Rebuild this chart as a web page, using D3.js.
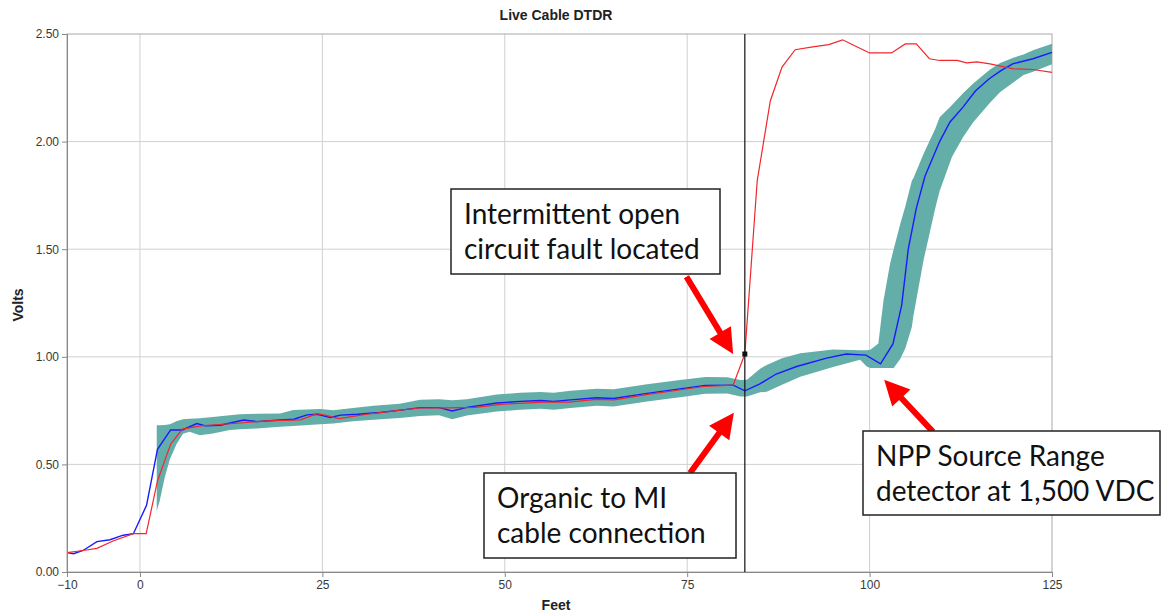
<!DOCTYPE html>
<html>
<head>
<meta charset="utf-8">
<script src="https://cdn.jsdelivr.net/npm/d3@7"></script>
<style>
  body { margin: 0; background: #fff; }
  svg { display: block; }
</style>
</head>
<body>
<div id="chart"></div>
<script>
// trace readings, [feet, volts]
const redTrace = [
  [-10, 0.09], [-7.8, 0.10], [-5.9, 0.11], [-3.7, 0.144], [-0.9, 0.178], [0.85, 0.178],
  [2.4, 0.423], [4.2, 0.594], [5.8, 0.664], [8.3, 0.679], [12.8, 0.69], [17.4, 0.702],
  [22, 0.707], [24.3, 0.736], [25.5, 0.728], [27.3, 0.713], [29, 0.722], [31.1, 0.733],
  [35.7, 0.752], [38.4, 0.762], [42, 0.763], [46, 0.765], [49.8, 0.78], [55.5, 0.789],
  [58.8, 0.789], [62.5, 0.802], [65, 0.80], [69.6, 0.825], [74.4, 0.848], [77.2, 0.862],
  [81.3, 0.868], [82.9, 1.013], [84.6, 1.819], [86.4, 2.19], [88, 2.346], [89.8, 2.427],
  [92.2, 2.44], [94.4, 2.451], [96.3, 2.473], [98.1, 2.443], [100, 2.412], [101.4, 2.412],
  [103, 2.412], [104.9, 2.454], [106.4, 2.454], [108.2, 2.385], [109.6, 2.377], [112, 2.377],
  [113.3, 2.366], [114.7, 2.37], [116.5, 2.361], [119.7, 2.338], [122.4, 2.335], [125, 2.322]
];

const blueTrace = [
  [-10, 0.09], [-9.1, 0.085], [-7.8, 0.10], [-5.9, 0.141], [-4.1, 0.15], [-2.3, 0.171],
  [-0.9, 0.178], [0.9, 0.31], [2.4, 0.57], [4.2, 0.66], [5.8, 0.66], [7.8, 0.69],
  [9.0, 0.679], [11, 0.682], [14.2, 0.706], [16, 0.699], [19.2, 0.706], [21.1, 0.71],
  [22.9, 0.73], [24.3, 0.733], [26.1, 0.718], [27.5, 0.729], [29.8, 0.733], [32.9, 0.741],
  [35.7, 0.752], [38.4, 0.764], [41, 0.764], [42.8, 0.748], [44.8, 0.765], [48.9, 0.785],
  [52.1, 0.793], [54.9, 0.797], [56.7, 0.792], [59, 0.80], [62.6, 0.81], [64.9, 0.806],
  [69.5, 0.83], [74, 0.851], [77.5, 0.867], [81.3, 0.868], [82.9, 0.842], [84.9, 0.873],
  [87.2, 0.92], [90, 0.955], [94.1, 0.994], [96.8, 1.013], [99.5, 1.008], [101.5, 0.967],
  [103.2, 1.06], [104.4, 1.24], [105.3, 1.5], [106.4, 1.69], [107.6, 1.84], [109.6, 2.0],
  [111, 2.09], [112.8, 2.16], [114.5, 2.235], [116.4, 2.292], [118, 2.33], [119.6, 2.361],
  [122.4, 2.385], [125, 2.415]
];

// teal envelope round the blue trace
const bandFeet = [
  2.3, 2.7, 3.4, 4.1, 5.0, 5.9, 6.8, 8.2, 10, 12.3, 13.7, 16, 19.2, 21, 24.7, 26.5, 29.2,
  32, 35.6, 38.4, 41, 42.8, 44.8, 48.9, 52.1, 54.9, 56.7, 59, 62.6, 64.9, 69.5, 74, 77.5,
  80.5, 82.3, 83.2, 85, 85.9, 88, 90.5, 95, 98.7, 99.6, 100.1, 101.2, 101.9, 102.8, 103.3,
  104.2, 104.9, 105.8, 106, 107.4, 109, 109.6, 111.3, 112.8, 114.2, 116.5, 117.9, 119.7,
  121.1, 122.4, 125
];
const bandHigh = [
  0.682, 0.682, 0.683, 0.687, 0.70, 0.71, 0.712, 0.715, 0.72, 0.728, 0.733, 0.735, 0.736,
  0.753, 0.757, 0.752, 0.762, 0.773, 0.782, 0.80, 0.803, 0.798, 0.803, 0.825, 0.833, 0.837,
  0.833, 0.842, 0.852, 0.849, 0.872, 0.892, 0.906, 0.905, 0.892, 0.893, 0.945, 0.962, 0.993,
  1.016, 1.034, 1.031, 1.031, 1.033, 1.062, 1.26, 1.431, 1.50, 1.617, 1.70, 1.819, 1.83,
  1.943, 2.06, 2.113, 2.17, 2.225, 2.27, 2.335, 2.365, 2.39, 2.405, 2.425, 2.455
];
const bandLow = [
  0.284, 0.33, 0.44, 0.524, 0.594, 0.642, 0.652, 0.636, 0.644, 0.66, 0.663, 0.667, 0.675,
  0.679, 0.687, 0.69, 0.70, 0.707, 0.716, 0.725, 0.728, 0.71, 0.727, 0.746, 0.754, 0.759,
  0.754, 0.762, 0.772, 0.769, 0.792, 0.812, 0.828, 0.83, 0.816, 0.816, 0.835, 0.838, 0.87,
  0.907, 0.953, 0.986, 0.955, 0.948, 0.948, 0.948, 0.948, 0.948, 0.99, 1.04, 1.14, 1.19,
  1.45, 1.69, 1.77, 1.93, 2.02, 2.09, 2.18, 2.23, 2.275, 2.31, 2.325, 2.36
];

const xTicks = [-10, 0, 25, 50, 75, 100, 125];
const yTicks = [0, 0.5, 1.0, 1.5, 2.0, 2.5];
const cursor = [82.9, 1.013];

// callouts: text lines, box in px, arrow tail -> tip in [feet, volts]
const notes = [
  { lines: ["Intermittent open", "circuit fault located"], box: [451, 189, 269, 85],
    tail: [74.9, 1.372], tip: [81.3, 1.013] },
  { lines: ["Organic to MI", "cable connection"], box: [484, 473, 252, 85],
    tail: [75.4, 0.46], tip: [81.4, 0.74] },
  { lines: ["NPP Source Range", "detector at 1,500 VDC"], box: [863, 431, 297, 84],
    tail: [108.7, 0.651], tip: [102, 0.893] }
];

var width = 1162,
    height = 615,
    margin = { left: 66, right: 110, top: 34, bottom: 43 };

var svg = d3.select("#chart").append("svg")
  .attr("width", width)
  .attr("height", height);

var x = d3.scaleLinear()
  .domain([-10, 125])
  .range([margin.left + 1, width - margin.right]);

var y = d3.scaleLinear()
  .domain([0, 2.5])
  .range([height - margin.bottom, margin.top]);

// grid
svg.append("g")
  .selectAll("line")
  .data(xTicks.slice(1, -1))
  .join("line")
    .attr("x1", d => x(d)).attr("x2", d => x(d))
    .attr("y1", y(2.5)).attr("y2", y(0))
    .attr("stroke", "#d0d0d0");

svg.append("g")
  .selectAll("line")
  .data(yTicks.slice(1, -1))
  .join("line")
    .attr("x1", x(-10)).attr("x2", x(125))
    .attr("y1", d => y(d)).attr("y2", d => y(d))
    .attr("stroke", "#d0d0d0");

svg.append("rect")
  .attr("x", x(-10)).attr("y", y(2.5))
  .attr("width", x(125) - x(-10)).attr("height", y(0) - y(2.5))
  .attr("fill", "none")
  .attr("stroke", "#a8a8a8");

// band
var area = d3.area()
  .x((d, i) => x(bandFeet[i]))
  .y0((d, i) => y(bandLow[i]))
  .y1((d, i) => y(bandHigh[i]));

svg.append("path")
  .datum(bandFeet)
  .attr("fill", "#64aeaa")
  .attr("d", area);

var line = d3.line()
  .x(d => x(d[0]))
  .y(d => y(d[1]));

svg.append("path")
  .datum(blueTrace)
  .attr("fill", "none")
  .attr("stroke", "#1a1aff")
  .attr("stroke-width", 1.4)
  .attr("d", line);

svg.append("path")
  .datum(redTrace)
  .attr("fill", "none")
  .attr("stroke", "#f2262c")
  .attr("stroke-width", 1.2)
  .attr("d", line);

// cursor
svg.append("line")
  .attr("x1", x(cursor[0])).attr("x2", x(cursor[0]))
  .attr("y1", y(2.5)).attr("y2", y(0))
  .attr("stroke", "#111")
  .attr("stroke-width", 1.2);

svg.append("rect")
  .attr("x", x(cursor[0]) - 2.5).attr("y", y(cursor[1]) - 2.5)
  .attr("width", 5).attr("height", 5)
  .attr("fill", "#111");

// axes
var xAxis = svg.append("g")
  .attr("transform", `translate(0,${y(0)})`)
  .call(d3.axisBottom(x).tickValues(xTicks).tickSize(5).tickPadding(3));

var yAxis = svg.append("g")
  .attr("transform", `translate(${x(-10)},0)`)
  .call(d3.axisLeft(y).tickValues(yTicks).tickFormat(d3.format(".2f")).tickSize(5).tickPadding(3));

[xAxis, yAxis].forEach(g => {
  g.select(".domain").attr("stroke", "#888");
  g.selectAll(".tick line").attr("stroke", "#888");
  g.selectAll(".tick text")
    .attr("fill", "#383838")
    .style("font-family", "Liberation Sans, Arial, sans-serif")
    .style("font-size", "12px");
});

svg.append("text")
  .attr("x", 556).attr("y", 20)
  .attr("text-anchor", "middle")
  .style("font", "bold 14px Liberation Sans, Arial, sans-serif")
  .attr("fill", "#222")
  .text("Live Cable DTDR");

svg.append("text")
  .attr("x", 556).attr("y", 610)
  .attr("text-anchor", "middle")
  .style("font", "bold 14px Liberation Sans, Arial, sans-serif")
  .attr("fill", "#222")
  .text("Feet");

svg.append("text")
  .attr("transform", "translate(23,305) rotate(-90)")
  .attr("text-anchor", "middle")
  .style("font", "bold 14px Liberation Sans, Arial, sans-serif")
  .attr("fill", "#222")
  .text("Volts");

// arrows
function arrowPath(t, p) {
  var x0 = x(t[0]), y0 = y(t[1]), x1 = x(p[0]), y1 = y(p[1]);
  var dx = x1 - x0, dy = y1 - y0, len = Math.hypot(dx, dy);
  var ux = dx / len, uy = dy / len, nx = -uy, ny = ux;
  var head = 25, hw = 12.5, sw = 3;
  var bx = x1 - ux * head, by = y1 - uy * head;
  var pts = [
    [x0 + nx * sw, y0 + ny * sw],
    [bx + nx * sw, by + ny * sw],
    [bx + nx * hw, by + ny * hw],
    [x1, y1],
    [bx - nx * hw, by - ny * hw],
    [bx - nx * sw, by - ny * sw],
    [x0 - nx * sw, y0 - ny * sw]
  ];
  return "M" + pts.map(q => q.join(",")).join("L") + "Z";
}

var note = svg.append("g")
  .selectAll("g")
  .data(notes)
  .join("g");

note.append("path")
  .attr("d", d => arrowPath(d.tail, d.tip))
  .attr("fill", "#ff0000");

note.append("rect")
  .attr("x", d => d.box[0]).attr("y", d => d.box[1])
  .attr("width", d => d.box[2]).attr("height", d => d.box[3])
  .attr("fill", "#fff")
  .attr("stroke", "#222")
  .attr("stroke-width", 1.5);

note.append("text")
  .style("font-family", "Lato, 'Noto Sans', sans-serif")
  .style("font-size", "28px")
  .attr("fill", "#111")
  .selectAll("tspan")
  .data(d => d.lines.map((s, i) => ({ s: s, i: i, box: d.box })))
  .join("tspan")
    .attr("x", d => d.box[0] + 13)
    .attr("y", d => d.box[1] + 35 + d.i * 35)
    .text(d => d.s);
</script>
</body>
</html>
